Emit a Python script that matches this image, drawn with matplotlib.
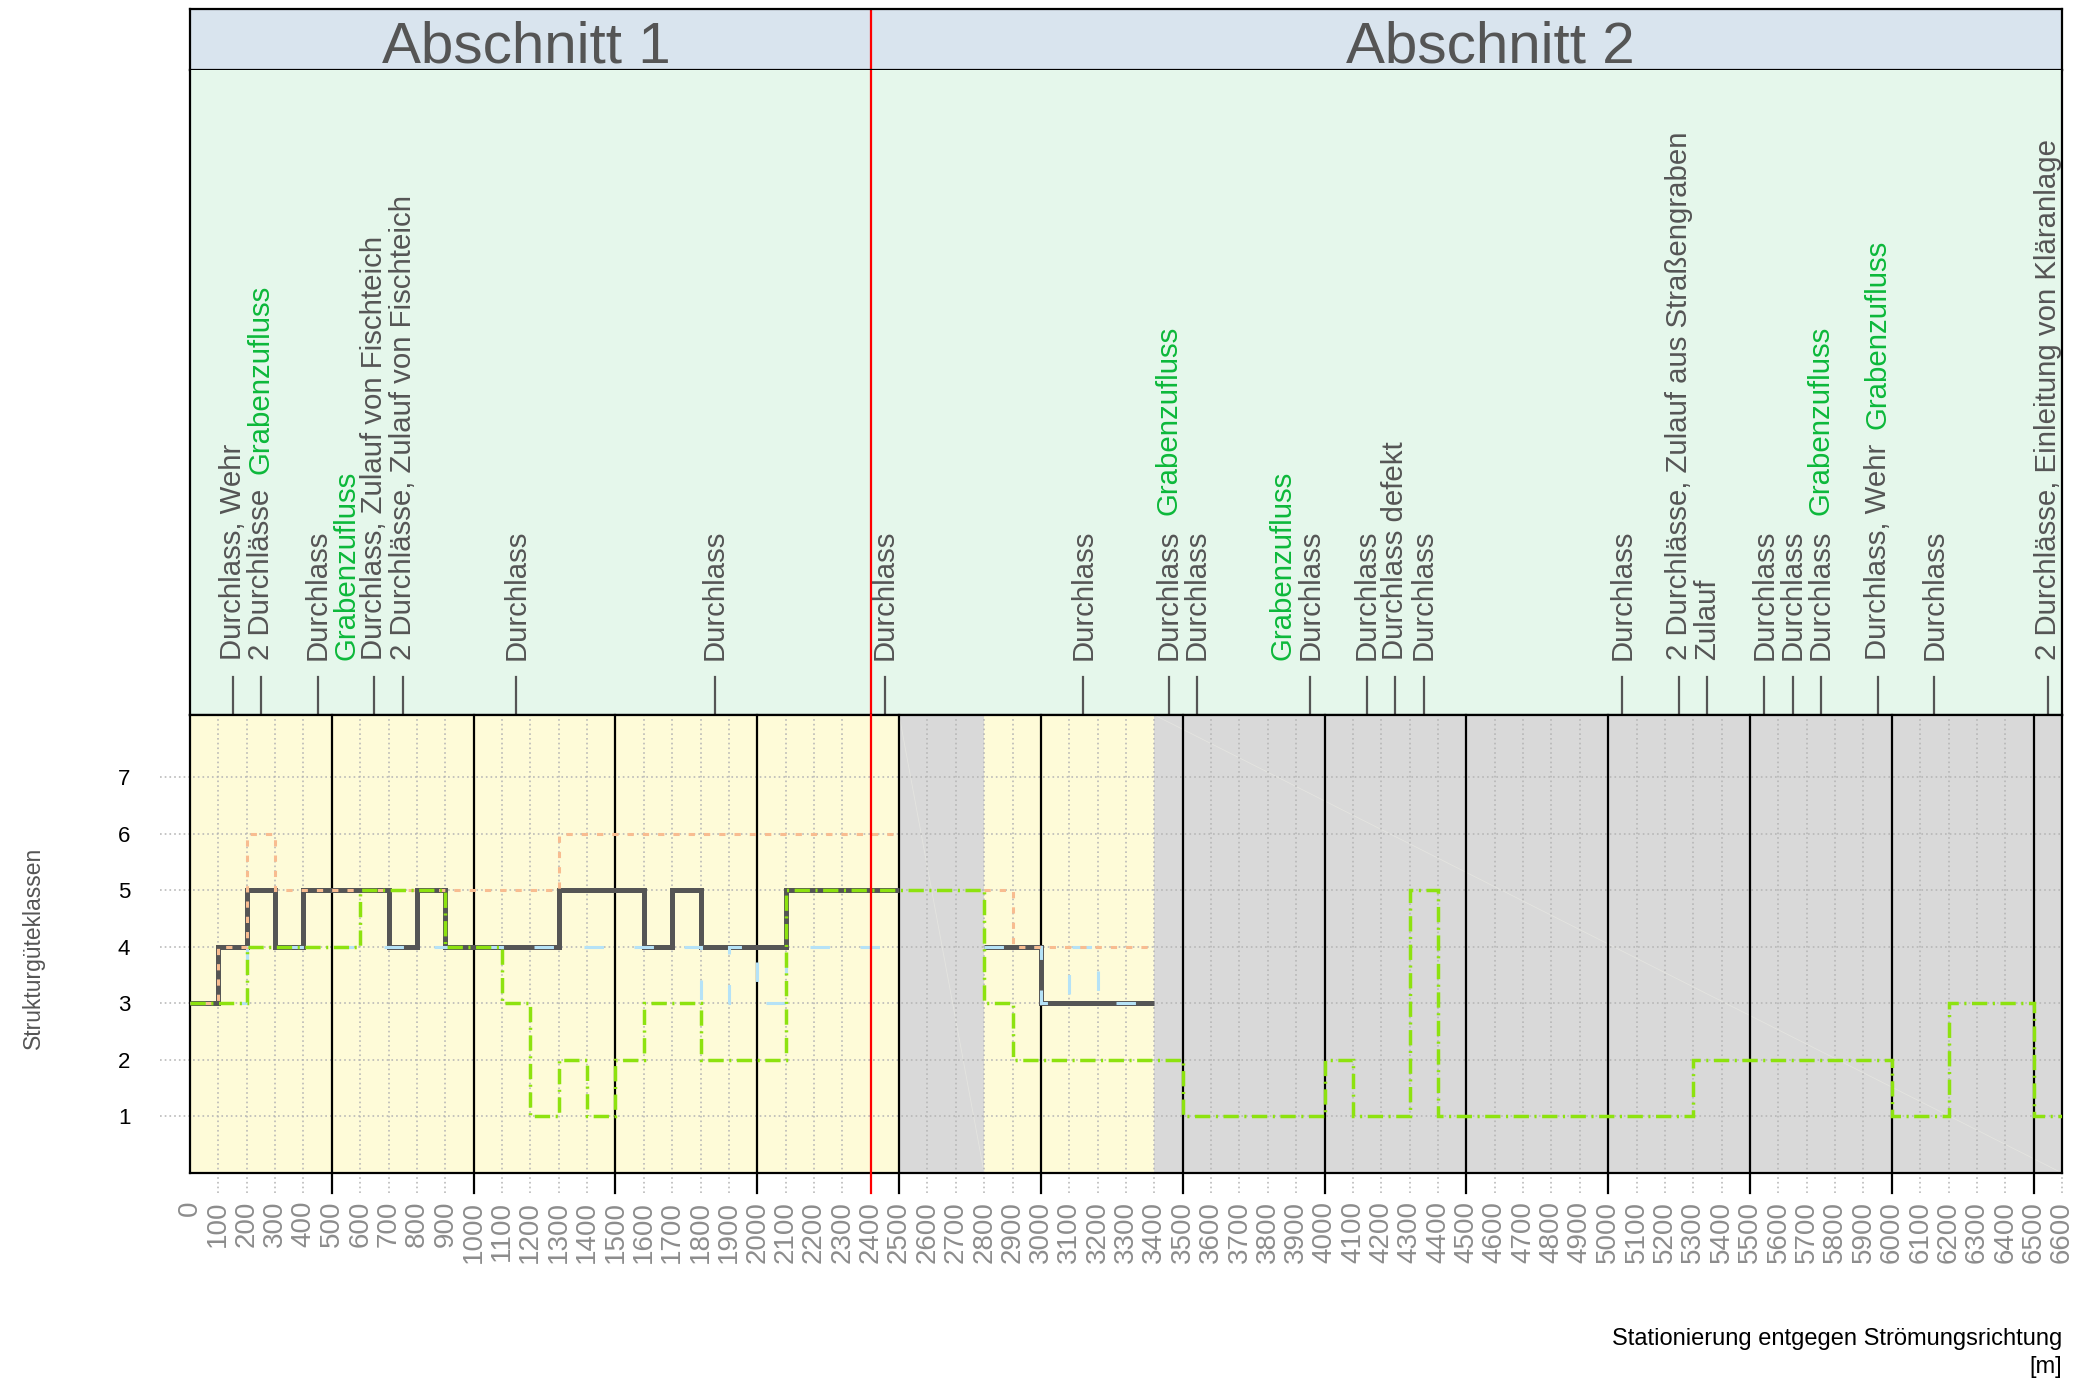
import matplotlib
matplotlib.use("Agg")
import matplotlib.pyplot as plt

plt.rcParams["font.family"] = ["Liberation Sans", "DejaVu Sans"]
plt.rcParams["lines.scale_dashes"] = False

# Strukturgüteklassen als Stufen: Kanten [m] + Klasse je Abschnitt
DARK_A_EDGES  = [0, 100, 200, 300, 400, 700, 800, 900, 1300, 1600, 1700, 1800, 2100, 2500]
DARK_A_VALUES = [3, 4, 5, 4, 5, 4, 5, 4, 5, 4, 5, 4, 5]
DARK_B_EDGES  = [2800, 3000, 3400]
DARK_B_VALUES = [4, 3]

BLUE_A_EDGES  = [0, 200, 1800, 1900, 2000, 2100, 2500]
BLUE_A_VALUES = [3, 4, 3, 4, 3, 4]
BLUE_B_EDGES  = [2800, 3000, 3100, 3200, 3400]
BLUE_B_VALUES = [4, 3, 4, 3]

ORANGE_A_EDGES  = [0, 100, 200, 300, 1300, 2500]
ORANGE_A_VALUES = [3, 4, 6, 5, 6]
ORANGE_B_EDGES  = [2800, 2900, 3400]
ORANGE_B_VALUES = [5, 4]

GREEN_EDGES  = [0, 200, 600, 900, 1100, 1200, 1300, 1400, 1500, 1600, 1800, 2100,
                2800, 2900, 3500, 4000, 4100, 4300, 4400, 5300, 6000, 6200, 6500, 6600]
GREEN_VALUES = [3, 4, 5, 4, 3, 1, 2, 1, 2, 3, 2, 5, 3, 2, 1, 2, 1, 5, 1, 2, 1, 3, 1]

# nicht kartierte Strecken (grau)
GRAY_SPANS = [(2500, 2800), (3400, 6600)]
YELLOW_SPANS = [(0, 2500), (2800, 3400)]

SECTION_NAMES = ["Abschnitt 1", "Abschnitt 2"]
SECTION_TEXT_X = [1186, 4585]
SECTION_BORDER = 2400

# Bauwerke: Station, grauer Text, grüner Zusatz
STRUCTURES = [
    (150,  "Durchlass, Wehr", ""),
    (250,  "2 Durchlässe", "Grabenzufluss"),
    (450,  "Durchlass", ""),
    (650,  "Durchlass, Zulauf von Fischteich", ""),
    (750,  "2 Durchlässe, Zulauf von Fischteich", ""),
    (1150, "Durchlass", ""),
    (1850, "Durchlass", ""),
    (2450, "Durchlass", ""),
    (3150, "Durchlass", ""),
    (3450, "Durchlass", "Grabenzufluss"),
    (3550, "Durchlass", ""),
    (3950, "Durchlass", ""),
    (4150, "Durchlass", ""),
    (4250, "Durchlass defekt", ""),
    (4350, "Durchlass", ""),
    (5050, "Durchlass", ""),
    (5250, "2 Durchlässe, Zulauf aus Straßengraben", ""),
    (5350, "Zulauf", ""),
    (5550, "Durchlass", ""),
    (5650, "Durchlass", ""),
    (5750, "Durchlass", "Grabenzufluss"),
    (5950, "Durchlass, Wehr", "Grabenzufluss"),
    (6150, "Durchlass", ""),
    (6550, "2 Durchlässe, Einleitung von Kläranlage", ""),
]
# Grabenzuflüsse ohne Strich
INFLOWS = [550, 3850]

X_MAX = 6600
Y_TICKS = [1, 2, 3, 4, 5, 6, 7]

C_DARK   = "#555555"
C_BLUE   = "#b5e2f7"
C_ORANGE = "#f8bc90"
C_GREEN  = "#8de20f"
C_TEXT   = "#555555"
C_INFLOW = "#0cb83a"
LABEL_FS = 21.2

W, H = 2073, 1387
fig = plt.figure(figsize=(W / 100, H / 100), dpi=100)

left, right = 190, 2062
def box(top, bottom):
    return [left / W, 1 - bottom / H, (right - left) / W, (bottom - top) / H]

ax_head = fig.add_axes(box(9, 70))
ax_top  = fig.add_axes(box(70, 715))
ax      = fig.add_axes(box(715, 1173))

for a in (ax_head, ax_top, ax):
    a.set_xlim(0, X_MAX)
    for s in a.spines.values():
        s.set_color("black")
        s.set_linewidth(1.6)

# --- Kopfzeile ---
ax_head.set_facecolor("#d9e4ee")
ax_head.set_ylim(0, 1)
ax_head.set_xticks([])
ax_head.set_yticks([])
for name, xt in zip(SECTION_NAMES, SECTION_TEXT_X):
    ax_head.text(xt, 0.13, name, fontsize=42, color=C_TEXT, ha="center", va="baseline")
ax_head.axvline(SECTION_BORDER, color="red", lw=1.6)

# --- Bauwerke ---
ax_top.set_facecolor("#e5f7eb")
ax_top.set_ylim(0, 1)
ax_top.set_xticks([])
ax_top.set_yticks([])
ax_top.spines["top"].set_visible(False)
ax_top.axvline(SECTION_BORDER, color="red", lw=1.6)
trans = ax_top.get_xaxis_transform()
for st, txt, extra in STRUCTURES:
    ax_top.plot([st, st], [0, 0.059], transform=trans, color=C_TEXT, lw=1.6)
    t = ax_top.text(st, 0.085, txt, transform=trans, rotation=90, fontsize=LABEL_FS,
                    color=C_TEXT, ha="center", va="bottom")
    if extra:
        ax_top.annotate(extra, xy=(0.5, 1.0), xycoords=t, xytext=(0, 11),
                        textcoords="offset points", rotation=90, fontsize=LABEL_FS,
                        color=C_INFLOW, ha="center", va="bottom")
for st in INFLOWS:
    ax_top.text(st, 0.085, "Grabenzufluss", transform=trans, rotation=90,
                fontsize=LABEL_FS, color=C_INFLOW, ha="center", va="bottom")

# --- Diagramm ---
ax.set_ylim(0, 8.1)
ax.set_facecolor("white")
for x0, x1 in YELLOW_SPANS:
    ax.axvspan(x0, x1, color="#fefbd8", zorder=0, lw=0)
for x0, x1 in GRAY_SPANS:
    ax.axvspan(x0, x1, color="#d9d9d9", zorder=0, lw=0)
    ax.plot([x0, x1], [8.1, 0], color="#e4e4e0", lw=0.6, zorder=0.5)

ext_below = -20 / (1173 - 715)
ext_left = -30 / (right - left)
for xv in range(100, X_MAX + 1, 100):
    if xv % 500 == 0 and xv < X_MAX:
        ax.axvline(xv, ymin=ext_below, ymax=1, color="black", lw=1.6,
                   clip_on=False, zorder=2)
    else:
        ax.axvline(xv, ymin=ext_below, ymax=1, color="#b4b4b4", lw=1.1,
                   ls=(0, (1.2, 2.2)), clip_on=False, zorder=1)
for yv in Y_TICKS:
    ax.axhline(yv, xmin=ext_left, xmax=1, color="#b4b4b4", lw=1.1,
               ls=(0, (1.2, 2.2)), clip_on=False, zorder=1)

ax.stairs(DARK_A_VALUES, DARK_A_EDGES, baseline=None, color=C_DARK, lw=3.6,
          joinstyle="miter", zorder=3)
ax.stairs(DARK_B_VALUES, DARK_B_EDGES, baseline=None, color=C_DARK, lw=3.6,
          joinstyle="miter", zorder=3)
for e, v in ((BLUE_A_EDGES, BLUE_A_VALUES), (BLUE_B_EDGES, BLUE_B_VALUES)):
    ax.stairs(v, e, baseline=None, color=C_BLUE, lw=2.2, ls=(0, (14, 22)), zorder=4)
for e, v in ((ORANGE_A_EDGES, ORANGE_A_VALUES), (ORANGE_B_EDGES, ORANGE_B_VALUES)):
    ax.stairs(v, e, baseline=None, color=C_ORANGE, lw=2.2, ls=(0, (4.5, 6.5)), zorder=5)
ax.stairs(GREEN_VALUES, GREEN_EDGES, baseline=None, color=C_GREEN, lw=2.5,
          ls=(0, (11, 4, 1.5, 4)), zorder=6)

ax.axvline(SECTION_BORDER, ymin=ext_below, ymax=1, color="red", lw=1.6,
           clip_on=False, zorder=7)

ax.set_xticks(range(0, X_MAX + 1, 100))
ax.set_xticklabels([str(v) for v in range(0, X_MAX + 1, 100)], rotation=90,
                   fontsize=20, color="#8c8c8c")
ax.set_yticks(Y_TICKS)
ax.set_yticklabels([str(v) for v in Y_TICKS], fontsize=16, color="black")
ax.tick_params(axis="x", length=0, pad=20)
ax.tick_params(axis="y", length=0, pad=43)

fig.text(33 / W, 1 - 948 / H, "Strukturgüteklassen", rotation=90, fontsize=16.5,
         color=C_TEXT, ha="center", va="center")
fig.text(right / W, 1 - 1328 / H, "Stationierung entgegen Strömungsrichtung\n[m]",
         fontsize=17, color="black", ha="right", va="top", multialignment="right",
         linespacing=1.35)

fig.savefig("out.png", dpi=100, facecolor="white")
